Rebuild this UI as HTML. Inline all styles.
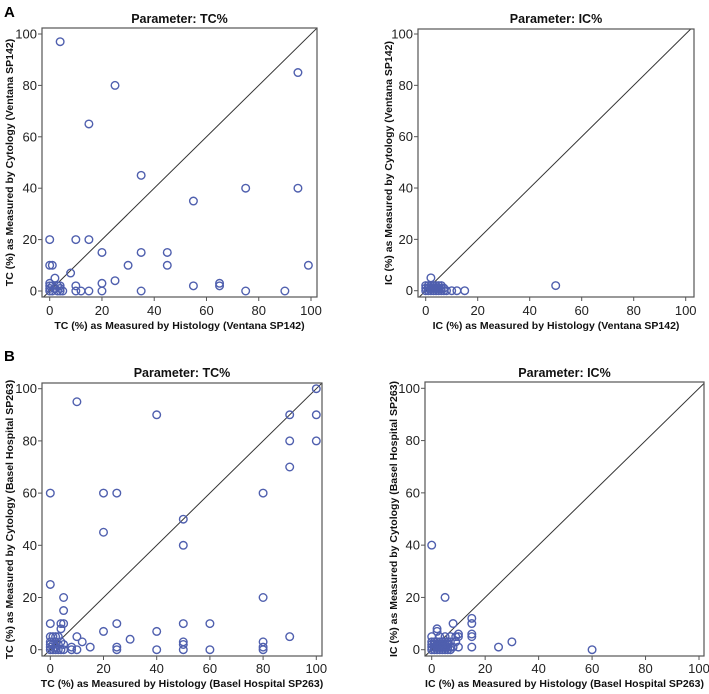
<!DOCTYPE html>
<html><head><meta charset="utf-8">
<style>
html,body{margin:0;padding:0;background:#fff;}
svg{display:block;font-family:"Liberation Sans",Arial,sans-serif;}
</style></head>
<body>
<svg id="fig" width="709" height="694" viewBox="0 0 709 694">
<text x="4" y="17" font-size="15" font-weight="bold">A</text>
<text x="4" y="361" font-size="15" font-weight="bold">B</text>
</svg>
<script>
const ticks = [0,20,40,60,80,100];
const tickLabels = ["0","20","40","60","80","100"];

const a1X = [4,25,95,15,35,75,95,55,0,10,15,20,35,45,0,1,30,45,99,8,2,25,20,65,0,0,1,3,4,10,55,65,0,2,4,0,1,2,3,4,5,10,12,15,20,35,75,90];
const a1Y = [97,80,85,65,45,40,40,35,20,20,20,15,15,15,10,10,10,10,10,7,5,4,3,3,3,2,2,2,2,2,2,2,1,1,1,0,0,1,0,0,0,0,0,0,0,0,0,0];

const a2X = [2,50,0,1,2,3,4,5,6,7,0,1,2,3,4,5,6,0,1,2,3,4,5,6,7,8,10,12,15];
const a2Y = [5,2,2,2,2,2,2,2,2,1,1,1,1,1,1,1,1,0,0,0,0,0,0,0,0,0,0,0,0];

const b1X = [10,40,90,100,100,90,100,90,0,20,25,80,50,20,50,0,5,80,5,0,4,5,25,50,60,4,20,40,0,1,2,3,10,90,30,0,2,4,12,50,80,0,1,3,5,50,0,2,8,15,25,80,0,1,2,3,4,5,8,10,25,40,50,60,80];
const b1Y = [95,90,90,90,100,80,80,70,60,60,60,60,50,45,40,25,20,20,15,10,10,10,10,10,10,8,7,7,5,5,5,5,5,5,4,3,3,3,3,3,3,2,2,2,2,2,1,1,1,1,1,1,0,0,0,0,0,0,0,0,0,0,0,0,0];

const b2X = [0,5,8,15,15,15,15,10,10,9,2,2,0,3,5,7,25,30,60,10,15,9,8,0,1,2,3,4,5,6,7,0,1,2,3,4,5,6,0,1,2,3,4,5,6,7,0,1,2,3,4,5,6,7];
const b2Y = [40,20,10,12,10,6,5,6,5,5,8,7,5,5,5,5,1,3,0,1,1,3,1,3,3,3,3,3,3,3,3,2,2,2,2,2,2,2,1,1,1,1,1,1,1,1,0,0,0,0,0,0,0,0];

const panels = [
 {id:"a-tc", xs:a1X, ys:a1Y, frame:[42,28,317,297], x0:49.7, x100:311, y0:291, y100:34,
  title:"Parameter: TC%", titleY:23, xt:"TC (%)  as Measured by Histology (Ventana SP142)", xtY:329,
  yt:"TC (%)  as Measured by Cytology (Ventana SP142)", ytX:13, tlY:315},
 {id:"a-ic", xs:a2X, ys:a2Y, frame:[418,29,694,297], x0:425.7, x100:685.7, y0:290.7, y100:34,
  title:"Parameter: IC%", titleY:23, xt:"IC (%)  as Measured by Histology (Ventana SP142)", xtY:329,
  yt:"IC (%)  as Measured by Cytology (Ventana SP142)", ytX:392, tlY:315},
 {id:"b-tc", xs:b1X, ys:b1Y, frame:[42,383,322,656], x0:50.3, x100:316.3, y0:649.7, y100:388.7,
  title:"Parameter: TC%", titleY:377, xt:"TC (%)  as Measured by Histology (Basel Hospital SP263)", xtY:687,
  yt:"TC (%)  as Measured by Cytology (Basel Hospital SP263)", ytX:13, tlY:673},
 {id:"b-ic", xs:b2X, ys:b2Y, frame:[425,382,704,656], x0:431.7, x100:699, y0:649.7, y100:388.3,
  title:"Parameter: IC%", titleY:377, xt:"IC (%)  as Measured by Histology (Basel Hospital SP263)", xtY:687,
  yt:"IC (%)  as Measured by Cytology (Basel Hospital SP263)", ytX:397, tlY:673}
];

const NS="http://www.w3.org/2000/svg";
const svg=document.getElementById('fig');
function mk(tag,attrs,parent){const e=document.createElementNS(NS,tag);for(const k in attrs)e.setAttribute(k,attrs[k]);(parent||svg).appendChild(e);return e;}

panels.forEach(p=>{
  const g=mk('g',{});
  
  
  const sx=v=>p.x0+(p.x100-p.x0)*v/100;
  const sy=v=>p.y0+(p.y100-p.y0)*v/100;
  const [L,T,R,B]=p.frame;
  const cid='clip-'+p.id;
  const cp=mk('clipPath',{id:cid},g); mk('rect',{x:L,y:T,width:R-L,height:B-T},cp);
  // identity line
  const ln=mk('line',{x1:sx(-5),y1:sy(-5),x2:sx(105),y2:sy(105),stroke:'#333','stroke-width':1,'clip-path':'url(#'+cid+')'},g);
  
  
  // points
  p.xs.forEach((x,i)=>{
    const c=mk('circle',{cx:sx(x),cy:sy(p.ys[i]),r:3.8,fill:'none',stroke:'#4f5fae','stroke-width':1.4},g);
    
    
  });
  const fr=mk('rect',{x:L,y:T,width:R-L,height:B-T,fill:'none',stroke:'#555','stroke-width':1.2},g);
  
  
  ticks.forEach((t,i)=>{
    mk('line',{x1:sx(t),y1:B,x2:sx(t),y2:B+4,stroke:'#555'},g);
    mk('line',{x1:L-4,y1:sy(t),x2:L,y2:sy(t),stroke:'#555'},g);
    const xl=mk('text',{x:sx(t),y:p.tlY,'font-size':13,'text-anchor':'middle',fill:'#222'},g);
    xl.textContent=tickLabels[i];
    
    
    const yl=mk('text',{x:L-5,y:sy(t)+4.5,'font-size':13,'text-anchor':'end',fill:'#222'},g);
    yl.textContent=tickLabels[i];
    
    
  });
  const tt=mk('text',{x:(L+R)/2,y:p.titleY,'font-size':12.5,'font-weight':'bold','text-anchor':'middle',fill:'#111'},g);
  tt.textContent=p.title;
  
  
  const xt=mk('text',{x:(L+R)/2,y:p.xtY,'font-size':10.5,'font-weight':'bold','text-anchor':'middle',fill:'#111'},g);
  xt.textContent=p.xt;
  
  
  const cy=(T+B)/2;
  const yt=mk('text',{x:p.ytX,y:cy,'font-size':10.5,'font-weight':'bold','text-anchor':'middle',fill:'#111',transform:'rotate(-90 '+p.ytX+' '+cy+')'},g);
  yt.textContent=p.yt;
  
  
});
</script>
</body></html>
